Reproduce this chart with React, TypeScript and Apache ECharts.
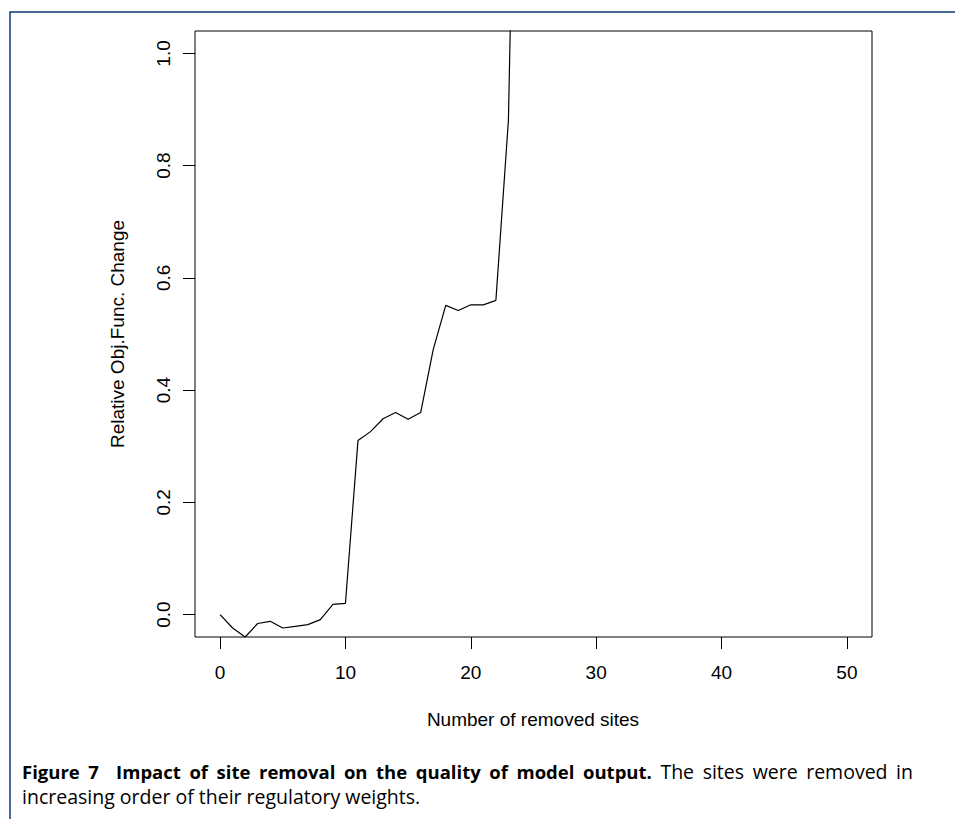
import React, { useEffect, useRef } from "react";
import * as echarts from "echarts";

const sitesRemoved = [0, 1, 2, 3, 4, 5, 6, 7, 8, 9, 10, 11, 12, 13, 14, 15, 16, 17, 18, 19, 20, 21, 22, 23, 24];
const relChange = [0.0, -0.024, -0.04, -0.016, -0.012, -0.024, -0.021, -0.018, -0.009, 0.018, 0.02, 0.31, 0.326, 0.349, 0.36, 0.348, 0.36, 0.472, 0.551, 0.542, 0.552, 0.552, 0.56, 0.881, 2.0];
const xTicks = [0, 10, 20, 30, 40, 50];
const yTicks = [0, 0.2, 0.4, 0.6, 0.8, 1.0];

const xTitle = "Number of removed sites";
const yTitle = "Relative Obj.Func. Change";
const captionBoldWords = ["Figure", "7", "Impact", "of", "site", "removal", "on", "the", "quality", "of", "model", "output."];
const captionNormalWords = ["The", "sites", "were", "removed", "in"];
const captionLine2 = "increasing order of their regulatory weights.";

const FONT = "'Liberation Sans', Arial, Helvetica, sans-serif";
const CAP_FAMILY = "'Open Sans'";
const CAP_FONT = "'Open Sans', Lato, sans-serif";
const BOLD_SIZE = 18.5;
const NORMAL_SIZE = 19.5;

export default function App() {
  const ref = useRef<HTMLDivElement>(null);
  useEffect(() => {
    if (!ref.current) return;
    const chart = echarts.init(ref.current, null, { renderer: "svg" });

    const ctx = document.createElement("canvas").getContext("2d") as CanvasRenderingContext2D;
    const measure = (t: string, bold: boolean, size: number) => {
      ctx.font = `${bold ? "bold " : ""}${size}px ${CAP_FAMILY}`;
      return ctx.measureText(t).width;
    };
    const lineLeft = 22;
    const lineRight = 913;
    const tokens = [
      ...captionBoldWords.map((w) => ({ w, bold: true })),
      ...captionNormalWords.map((w) => ({ w, bold: false })),
    ];
    const widths = tokens.map((t) => measure(t.w, t.bold, t.bold ? BOLD_SIZE : NORMAL_SIZE));
    const total = widths.reduce((a, b) => a + b, 0);
    const gapUnits = tokens.length - 1 + 1; // extra unit after "Figure 7"
    const gap = (lineRight - lineLeft - total) / gapUnits;
    const captionTexts: any[] = [];
    let cx = lineLeft;
    tokens.forEach((t, i) => {
      captionTexts.push({
        type: "text",
        x: cx,
        y: 771,
        style: {
          text: t.w,
          fontSize: t.bold ? BOLD_SIZE : NORMAL_SIZE,
          fontWeight: t.bold ? "bold" : "normal",
          fontFamily: CAP_FONT,
          fill: "#000",
          verticalAlign: "middle",
        },
      });
      cx += widths[i] + gap * (i === 1 ? 2 : 1);
    });

    chart.setOption({
      animation: false,
      backgroundColor: "#fff",
      grid: {
        left: 195,
        right: 83,
        top: 31,
        bottom: 182,
        show: true,
        borderColor: "#000",
        borderWidth: 1,
        backgroundColor: "transparent",
      },
      xAxis: {
        type: "value",
        min: -2,
        max: 52,
        splitLine: { show: false },
        axisLine: { show: false, onZero: false },
        axisTick: { show: true, customValues: xTicks, length: 12, inside: false, lineStyle: { color: "#000", width: 1 } },
        axisLabel: {
          customValues: xTicks,
          margin: 26,
          color: "#000",
          fontSize: 19,
          fontFamily: FONT,
          formatter: (v: number) => String(v),
        },
      },
      yAxis: {
        type: "value",
        min: -0.04,
        max: 1.04,
        splitLine: { show: false },
        axisLine: { show: false, onZero: false },
        axisTick: { show: true, customValues: yTicks, length: 12, inside: false, lineStyle: { color: "#000", width: 1 } },
        axisLabel: {
          customValues: yTicks,
          rotate: 90,
          margin: 22,
          color: "#000",
          fontSize: 19,
          fontFamily: FONT,
          formatter: (v: number) => v.toFixed(1),
        },
      },
      series: [
        {
          type: "line",
          data: sitesRemoved.map((x, i) => [x, relChange[i]]),
          showSymbol: false,
          symbol: "none",
          clip: true,
          lineStyle: { color: "#000", width: 1.2 },
        },
      ],
      graphic: [
        {
          type: "polyline",
          shape: { points: [[10, 819], [10, 12], [955, 12]] },
          style: { stroke: "#0d3b73", lineWidth: 1.5, fill: "none" },
          silent: true,
        },
        {
          type: "text",
          x: 533,
          y: 719,
          style: { text: xTitle, fontSize: 19, fontFamily: FONT, fill: "#000", align: "center", verticalAlign: "middle" },
        },
        {
          type: "text",
          x: 117,
          y: 334,
          rotation: Math.PI / 2,
          style: { text: yTitle, fontSize: 19, fontFamily: FONT, fill: "#000", align: "center", verticalAlign: "middle" },
        },
        ...captionTexts,
        {
          type: "text",
          x: 22,
          y: 796,
          style: { text: captionLine2, fontSize: NORMAL_SIZE, fontFamily: CAP_FONT, fill: "#000", verticalAlign: "middle" },
        },
      ],
    });
    return () => chart.dispose();
  }, []);
  return <div ref={ref} style={{ position: "fixed", left: 0, top: 0, width: 955, height: 819 }} />;
}
